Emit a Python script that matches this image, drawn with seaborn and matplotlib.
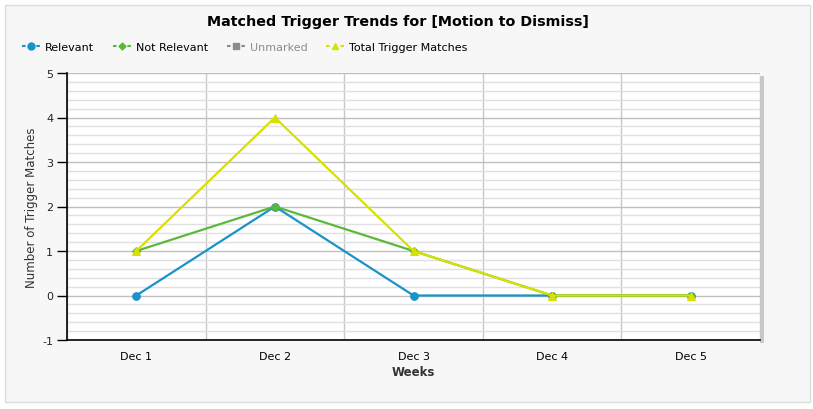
import numpy as np
import pandas as pd
import matplotlib
matplotlib.use("Agg")
import matplotlib.pyplot as plt
import seaborn as sns
from matplotlib.lines import Line2D
from matplotlib.patches import Rectangle

# --- Data ---
weeks = ["Dec 1", "Dec 2", "Dec 3", "Dec 4", "Dec 5"]
relevant = [0, 2, 0, 0, 0]
not_relevant = [1, 2, 1, 0, 0]
unmarked = [0, 0, 0, 0, 0]  # hidden series (greyed out in legend)
total_matches = [1, 4, 1, 0, 0]

BLUE = "#1a93c8"
GREEN = "#5cb83a"
GREY = "#8c8c8c"
YELLOW = "#d8e000"

sns.set_theme(style="white")
plt.rcParams["font.family"] = ["DejaVu Sans"]
plt.rcParams["axes.unicode_minus"] = False

fig = plt.figure(figsize=(8.13, 4.10), dpi=100)
fig.patch.set_facecolor("white")
fig.patches.append(Rectangle((5 / 813, 7 / 410), 805 / 813, 397 / 410, transform=fig.transFigure,
                             facecolor="#f7f7f7", edgecolor="#dcdcdc", linewidth=1, zorder=-10))

ax = fig.add_axes([67 / 813, 69 / 410, 693 / 813, 267 / 410])
ax.set_facecolor("white")

# shadow on the right of the plot area
fig.patches.append(Rectangle((760 / 813, 66 / 410), 4 / 813, 267 / 410, transform=fig.transFigure,
                             facecolor="#c8c8c8", edgecolor="none", zorder=-5))

x = np.arange(len(weeks))
df = pd.DataFrame({"x": x, "Relevant": relevant, "Not Relevant": not_relevant,
                   "Total Trigger Matches": total_matches})

sns.lineplot(data=df, x="x", y="Relevant", ax=ax, color=BLUE, linewidth=1.6,
             marker="o", markersize=5.5, markeredgecolor=BLUE, zorder=3)
sns.lineplot(data=df, x="x", y="Not Relevant", ax=ax, color=GREEN, linewidth=1.6,
             marker="D", markersize=4, markeredgecolor=GREEN, zorder=4)
sns.lineplot(data=df, x="x", y="Total Trigger Matches", ax=ax, color=YELLOW, linewidth=1.6,
             marker="^", markersize=6, markeredgecolor=YELLOW, zorder=5)

ax.set_xlim(-0.5, 4.5)
ax.set_ylim(-1, 5)

ax.set_xticks(x)
ax.set_xticklabels(weeks, fontsize=8)
ax.set_xticks(np.arange(-0.5, 4.6, 1), minor=True)
ax.tick_params(axis="x", which="major", length=0, pad=8, colors="black")
ax.tick_params(axis="x", which="minor", length=8, width=1, color="black", direction="out")

ax.set_yticks(range(-1, 6))
ax.set_yticks(np.arange(-1, 5.01, 0.2), minor=True)
ax.tick_params(axis="y", which="major", length=7, width=1, color="black", labelsize=8, pad=3,
               direction="out", left=True)
ax.tick_params(axis="y", which="minor", length=0)

ax.grid(which="major", axis="y", color="#c0c0c0", linewidth=1)
ax.grid(which="minor", axis="y", color="#e0e0e0", linewidth=1)
ax.grid(which="minor", axis="x", color="#c8c8c8", linewidth=1)
ax.grid(which="major", axis="x", visible=False)
ax.set_axisbelow(True)

for side in ["top", "right"]:
    ax.spines[side].set_visible(False)
for side in ["left", "bottom"]:
    ax.spines[side].set_color("black")
    ax.spines[side].set_linewidth(1.2)

ax.set_xlabel("Weeks", fontsize=8.5, color="#333333", fontweight="bold", labelpad=3)
ax.set_ylabel("Number of Trigger Matches", fontsize=8.5, color="#333333", labelpad=3)

fig.text(398 / 813, 1 - 22 / 410, "Matched Trigger Trends for [Motion to Dismiss]",
         ha="center", va="center", fontsize=10.3, fontweight="bold", color="black")

# short dash - marker - short dash (dash pattern is scaled by linewidth 1.5)
dash = (0, (1.7, 5.2))
handles = [
    Line2D([], [], color=BLUE, linestyle=dash, marker="o", markersize=5, linewidth=1.5),
    Line2D([], [], color=GREEN, linestyle=dash, marker="D", markersize=3.5, linewidth=1.5),
    Line2D([], [], color=GREY, linestyle=dash, marker="s", markersize=4.5, linewidth=1.5),
    Line2D([], [], color=YELLOW, linestyle=dash, marker="^", markersize=5, linewidth=1.5),
]
labels = ["Relevant", "Not Relevant", "Unmarked", "Total Trigger Matches"]
leg = fig.legend(handles, labels, loc="center left", bbox_to_anchor=(18 / 813, 1 - 48 / 410),
                 ncol=4, frameon=False, fontsize=8, handlelength=1.6, handletextpad=0.45,
                 columnspacing=1.7, borderaxespad=0)
for t, c in zip(leg.get_texts(), ["black", "black", GREY, "black"]):
    t.set_color(c)

fig.savefig("out.png", dpi=100)
